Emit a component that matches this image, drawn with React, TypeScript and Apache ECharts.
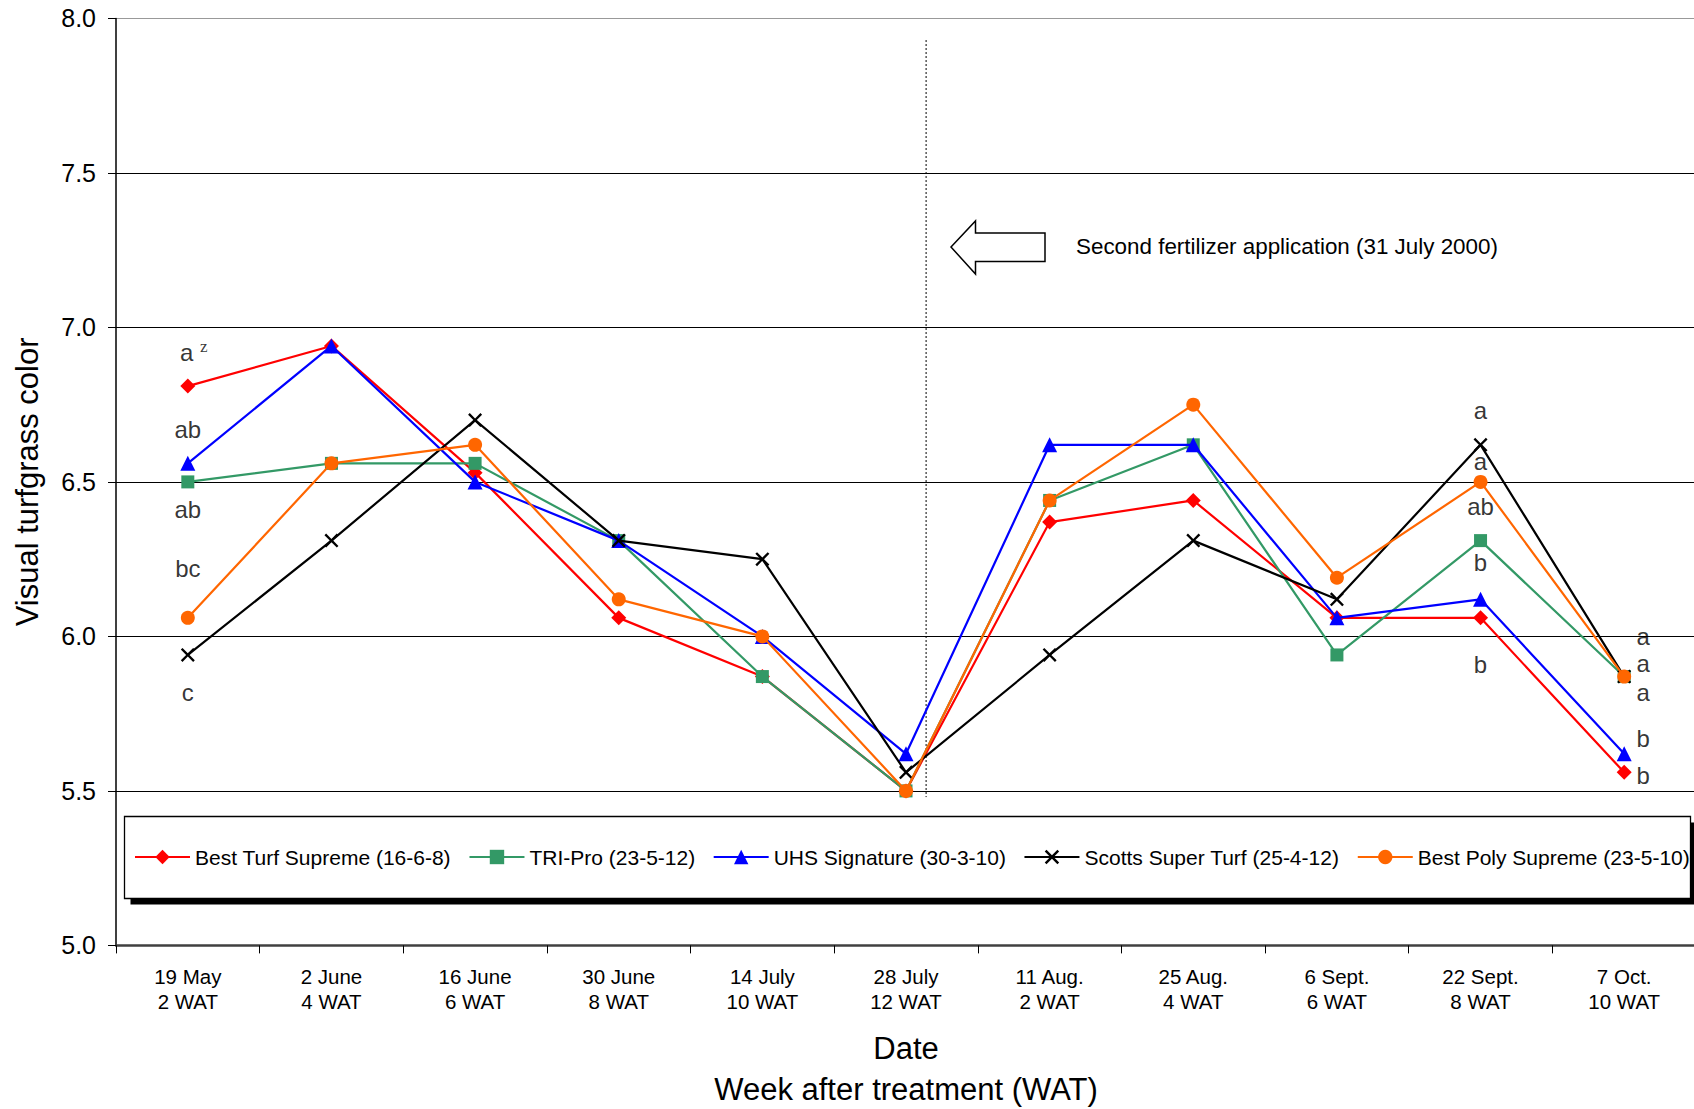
import React, { useEffect, useRef } from 'react';
import * as echarts from 'echarts';

const dateLabels = ['19 May', '2 June', '16 June', '30 June', '14 July', '28 July', '11 Aug.', '25 Aug.', '6 Sept.', '22 Sept.', '7 Oct.'];
const watLabels = ['2 WAT', '4 WAT', '6 WAT', '8 WAT', '10 WAT', '12 WAT', '2 WAT', '4 WAT', '6 WAT', '8 WAT', '10 WAT'];

const seriesNames = [
  'Best Turf Supreme (16-6-8)',
  'TRI-Pro (23-5-12)',
  'UHS Signature (30-3-10)',
  'Scotts Super Turf (25-4-12)',
  'Best Poly Supreme (23-5-10)',
];
const bestTurfSupreme = [6.81, 6.94, 6.53, 6.06, 5.87, 5.5, 6.37, 6.44, 6.06, 6.06, 5.56];
const triPro = [6.5, 6.56, 6.56, 6.31, 5.87, 5.5, 6.44, 6.62, 5.94, 6.31, 5.87];
const uhsSignature = [6.56, 6.94, 6.5, 6.31, 6.0, 5.62, 6.62, 6.62, 6.06, 6.12, 5.62];
const scottsSuperTurf = [5.94, 6.31, 6.7, 6.31, 6.25, 5.56, 5.94, 6.31, 6.12, 6.62, 5.87];
const bestPolySupreme = [6.06, 6.56, 6.62, 6.12, 6.0, 5.5, 6.44, 6.75, 6.19, 6.5, 5.87];

// significance letters: category index, y value, text
const letterCategory = [0, 0, 0, 0, 0, 9, 9, 9, 9, 9, 10, 10, 10, 10, 10];
const letterValue = [6.92, 6.67, 6.41, 6.22, 5.82, 6.73, 6.565, 6.42, 6.24, 5.91, 6.0, 5.912, 5.82, 5.67, 5.55];
const letterText = ['a^z', 'ab', 'ab', 'bc', 'c', 'a', 'a', 'ab', 'b', 'b', 'a', 'a', 'a', 'b', 'b'];

const yMin = 5;
const yMax = 8;
const yInterval = 0.5;

const annotationText = 'Second fertilizer application (31 July 2000)';

const FONT = '"Liberation Sans", Arial, sans-serif';

export default function App() {
  const ref = useRef<HTMLDivElement>(null);

  useEffect(() => {
    if (!ref.current) return;
    const chart = echarts.init(ref.current, undefined, { renderer: 'svg' });
    const categories = dateLabels.map((d, i) => d + '\n' + watLabels[i]);

    const xCross = 'path://M0,1.2L1.2,0L5,3.8L8.8,0L10,1.2L6.2,5L10,8.8L8.8,10L5,6.2L1.2,10L0,8.8L3.8,5Z';

    const seriesDefs = [
      { data: bestTurfSupreme, color: '#FF0000', symbol: 'diamond', size: 15 },
      { data: triPro, color: '#339966', symbol: 'rect', size: 13 },
      { data: uhsSignature, color: '#0000FF', symbol: 'triangle', size: 15 },
      { data: scottsSuperTurf, color: '#000000', symbol: xCross, size: 14 },
      { data: bestPolySupreme, color: '#FF6600', symbol: 'circle', size: 14 },
    ];

    const lineSeries = seriesDefs.map((s, i) => ({
      name: seriesNames[i],
      type: 'line',
      data: s.data,
      symbol: s.symbol,
      symbolSize: s.size,
      showAllSymbol: true,
      lineStyle: { color: s.color, width: 2.2 },
      itemStyle: { color: s.color },
      z: 3 + i,
    }));

    const letterData = letterText.map((t, i) => ({
      value: [categories[letterCategory[i]], letterValue[i]],
      name: t,
      label: letterCategory[i] === categories.length - 1 ? { offset: [19, 0] } : t === 'a^z' ? { offset: [6, 0] } : {},
    }));

    chart.setOption({
      animation: false,
      backgroundColor: '#ffffff',
      textStyle: { fontFamily: FONT, color: '#000' },
      grid: { left: 116, top: 18.4, width: 1580, height: 927, containLabel: false, outerBoundsMode: 'none' },
      legend: {
        data: seriesNames,
        left: 134,
        top: 846,
        orient: 'horizontal',
        itemWidth: 55,
        itemHeight: 18,
        itemGap: 17.5,
        padding: 0,
        z: 20,
        textStyle: { fontFamily: FONT, fontSize: 21, color: '#000', lineHeight: 22 },
      },
      xAxis: {
        type: 'category',
        data: categories,
        boundaryGap: true,
        axisLine: { lineStyle: { color: '#404040', width: 2.5 } },
        axisTick: { show: true, length: 8, inside: false, lineStyle: { color: '#000', width: 1 } },
        axisLabel: {
          interval: 0,
          fontFamily: FONT,
          fontSize: 20.5,
          lineHeight: 25,
          color: '#000',
          margin: 19,
        },
        name: 'Date\nWeek after treatment (WAT)',
        nameLocation: 'middle',
        nameGap: 83,
        nameTextStyle: { fontFamily: FONT, fontSize: 31, lineHeight: 41, color: '#000' },
        splitLine: { show: false },
      },
      yAxis: {
        type: 'value',
        min: yMin,
        max: yMax,
        interval: yInterval,
        axisLine: { show: true, lineStyle: { color: '#000', width: 1.5 } },
        axisTick: { show: true, length: 8, inside: false, lineStyle: { color: '#000', width: 1 } },
        axisLabel: {
          fontFamily: FONT,
          fontSize: 25,
          color: '#000',
          margin: 20,
          formatter: (v: number) => v.toFixed(1),
        },
        splitLine: {
          show: true,
          lineStyle: { color: ['#000', '#000', '#000', '#000', '#000', '#000', '#999'], width: 1 },
        },
        name: 'Visual turfgrass color',
        nameLocation: 'middle',
        nameGap: 73,
        nameTextStyle: { fontFamily: FONT, fontSize: 31, color: '#000' },
      },
      series: [
        ...lineSeries,
        {
          name: '__letters',
          type: 'scatter',
          data: letterData,
          symbolSize: 1,
          itemStyle: { color: 'rgba(0,0,0,0)' },
          silent: true,
          z: 10,
          label: {
            show: true,
            position: 'inside',
            align: 'center',
            verticalAlign: 'middle',
            fontFamily: FONT,
            fontSize: 24,
            lineHeight: 20,
            color: '#000',
            formatter: (p: any) => (p.name === 'a^z' ? '{n|a} {s|z}' : p.name),
            rich: {
              n: { fontFamily: FONT, fontSize: 24, lineHeight: 20, color: '#000' },
              s: { fontFamily: '"Liberation Serif", "Times New Roman", serif', fontSize: 17, lineHeight: 20, color: '#000', padding: [0, 0, 12, 0] },
            },
          },
        },
      ],
    });

    const xa = chart.convertToPixel({ xAxisIndex: 0 }, categories[5]) as number;
    const xb = chart.convertToPixel({ xAxisIndex: 0 }, categories[6]) as number;
    const lineX = xa + 0.14 * (xb - xa);
    const yTop = chart.convertToPixel({ yAxisIndex: 0 }, 7.93) as number;
    const yBot = chart.convertToPixel({ yAxisIndex: 0 }, 5.48) as number;

    chart.setOption({
      graphic: [
        {
          type: 'rect',
          z: 1,
          silent: true,
          shape: { x: 130.5, y: 822.5, width: 1566, height: 82 },
          style: { fill: '#000' },
        },
        {
          type: 'rect',
          z: 2,
          silent: true,
          shape: { x: 124.5, y: 816.5, width: 1566, height: 82 },
          style: { fill: '#fff', stroke: '#000', lineWidth: 1.3 },
        },
        {
          type: 'line',
          z: 2,
          silent: true,
          shape: { x1: lineX, y1: yTop, x2: lineX, y2: yBot },
          style: { stroke: '#000', lineWidth: 1, lineDash: [2, 2] },
        },
        {
          type: 'polygon',
          z: 2,
          silent: true,
          shape: {
            points: [
              [951, 247],
              [975.5, 221],
              [975.5, 233],
              [1045, 233],
              [1045, 261.5],
              [975.5, 261.5],
              [975.5, 274],
            ],
          },
          style: { fill: '#fff', stroke: '#000', lineWidth: 1.5 },
        },
        {
          type: 'text',
          z: 2,
          silent: true,
          x: 1076,
          y: 246,
          style: {
            text: annotationText,
            fontFamily: FONT,
            fontSize: 22.4,
            fill: '#000',
            align: 'left',
            verticalAlign: 'middle',
          },
        },
      ],
    });

    return () => {
      chart.dispose();
    };
  }, []);

  return (
    <div
      ref={ref}
      style={{ position: 'absolute', left: 0, top: 0, width: 1694, height: 1109, background: '#fff' }}
    />
  );
}
